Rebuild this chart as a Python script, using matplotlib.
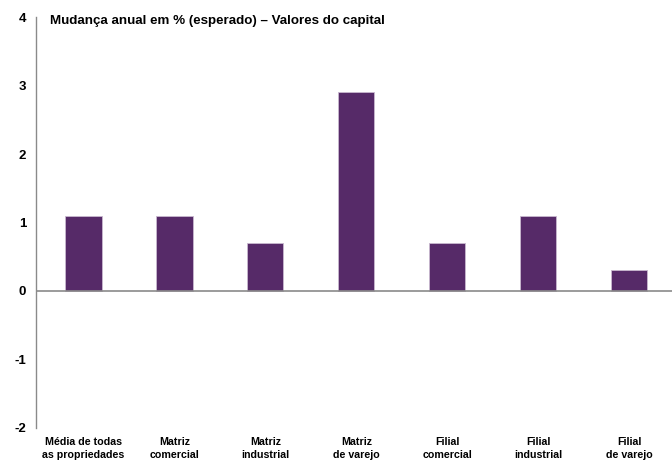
import matplotlib
matplotlib.use("Agg")
import matplotlib.pyplot as plt

plt.rcParams['font.family'] = ['Liberation Sans', 'DejaVu Sans']

categories = [
    "Média de todas\nas propriedades",
    "Matriz\ncomercial",
    "Matriz\nindustrial",
    "Matriz\nde varejo",
    "Filial\ncomercial",
    "Filial\nindustrial",
    "Filial\nde varejo",
]
values = [1.1, 1.1, 0.7, 2.9, 0.7, 1.1, 0.3]
y_ticks = [-2, -1, 0, 1, 2, 3, 4]
title = "Mudança anual em % (esperado) – Valores do capital"

bar_color = "#562A68"
edge_color = "#C9B8CF"
axis_color = "#8A8A8A"

fig = plt.figure(figsize=(6.72, 4.61), dpi=100)
ax = fig.add_axes([0.0536, 0.0716, 0.9464, 0.8915])

x = list(range(len(categories)))
ax.bar(x, values, width=0.4, color=bar_color, edgecolor=edge_color,
       linewidth=0.6, zorder=2)
ax.axhline(0, color=axis_color, linewidth=1.2, zorder=3)

ax.set_xlim(-0.52, 6.47)
ax.set_ylim(-2, 4)
ax.set_yticks(y_ticks)
ax.set_yticklabels([str(t) for t in y_ticks], fontsize=9.5, fontweight="bold")
ax.tick_params(axis="y", length=0, pad=7)
ax.tick_params(axis="x", length=0, bottom=False, labelbottom=False)

for xi, lab in zip(x, categories):
    ax.text(xi, -2.13, lab, ha="center", va="top", fontsize=7.7,
            fontweight="bold", linespacing=1.45)

for side in ["top", "right", "bottom"]:
    ax.spines[side].set_visible(False)
ax.spines["left"].set_color(axis_color)
ax.spines["left"].set_linewidth(1.0)

fig.text(50 / 672, 1 - 21 / 461, title, ha="left", va="center",
         fontsize=9.6, fontweight="bold")

fig.savefig("out.png", dpi=100)
